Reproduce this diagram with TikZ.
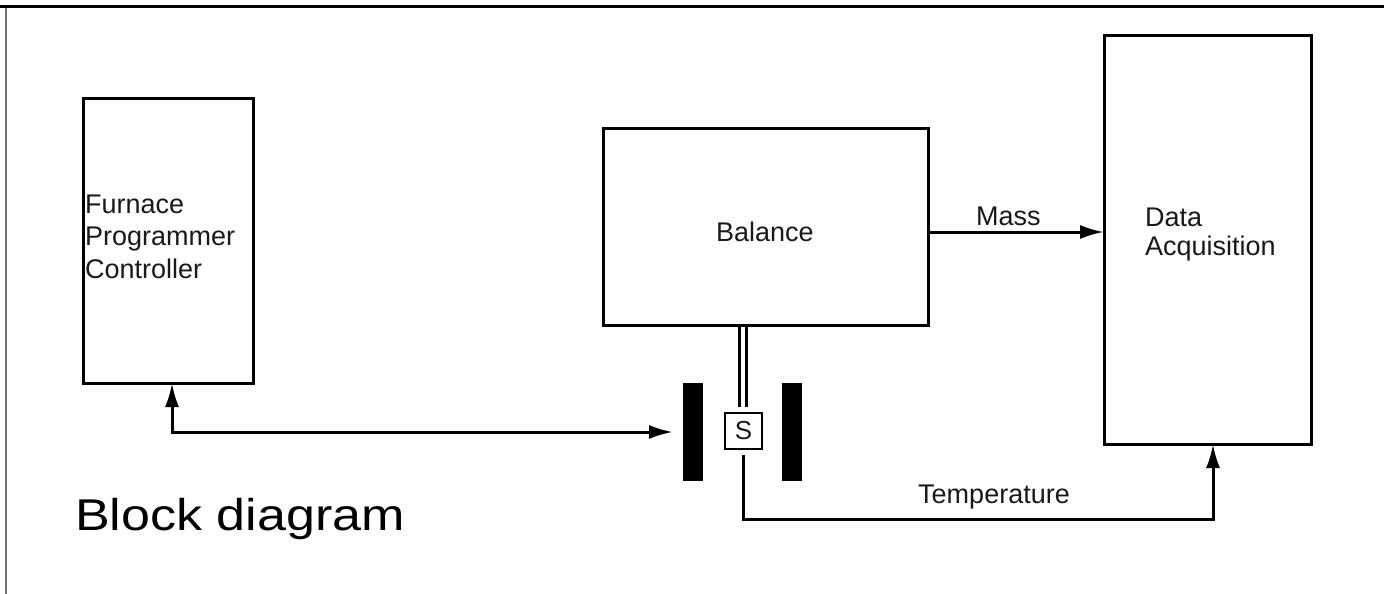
\documentclass[tikz,border=0pt]{standalone}
\usepackage{fontspec}
\setmainfont{Liberation Sans}
\usetikzlibrary{arrows.meta}
\tikzset{
  box/.style={draw=black, line width=3pt, fill=none, inner sep=0pt, outer sep=0pt},
  bar/.style={fill=black, draw=none, inner sep=0pt, outer sep=0pt, minimum width=20pt, minimum height=98pt},
  lbl/.style={inner sep=0pt, anchor=base west, text=black!90, font=\fontsize{27}{30}\selectfont},
  conn/.style={line width=3pt, draw=black},
  arr/.style={conn, -{Latex[length=24pt,width=14pt]}},
  biarr/.style={conn, {Latex[length=24pt,width=14pt]}-{Latex[length=24pt,width=14pt]}},
}
\begin{document}
\begin{tikzpicture}[x=1pt, y=-1pt]
\useasboundingbox (0,0) rectangle (1384,594);
\fill[white] (0,0) rectangle (1384,594);
% frame lines
\draw[line width=3.5pt, black] (0,6.5) -- (1384,6.5);
\draw[line width=2pt, black!55] (6,8) -- (6,594);
% boxes
\node[box, minimum width=170pt, minimum height=285pt] (fpc) at (168,240.5) {};
\node[box, minimum width=325pt, minimum height=197pt] (bal) at (765.5,226.5) {};
\node[box, minimum width=207pt, minimum height=408pt] (daq) at (1207.5,240) {};
\node[box, line width=2.4pt, minimum width=37pt, minimum height=36pt, font=\fontsize{26}{28}\selectfont, text=black!90] (sbox) at (743.5,431) {S};
\node[bar] (lbar) at (693,432) {};
\node[bar] (rbar) at (792,432) {};
% texts
\node[lbl, align=left, font=\fontsize{27}{32.5}\selectfont] (fpct) at (85,278) {Furnace\\Programmer\\Controller};
\node[lbl] (balt) at (716,241) {Balance};
\node[lbl, align=left, font=\fontsize{27}{29}\selectfont] (daqt) at (1145,255) {Data\\Acquisition};
\node[lbl] (mass) at (976,225) {Mass};
\node[lbl] (temp) at (918,503) {Temperature};
\node[inner sep=0pt, anchor=base west, font=\fontsize{44.5}{50}\selectfont] (title) at (75,530) {\scalebox{1.17}[1]{Block diagram}};
% connectors
\coordinate (fc) at (172,432);
\draw[biarr, shorten >=10pt] (fpc.south -| fc) -- (fc) -- (lbar.west |- fc);
\coordinate (m1) at (0,232);
\draw[arr] (bal.east |- m1) -- (daq.west |- m1);
\coordinate (h1) at (739.5,0);
\coordinate (h2) at (746.5,0);
\draw[conn, line width=2.2pt, shorten >=6pt] (bal.south -| h1) -- (sbox.north -| h1);
\draw[conn, line width=2.2pt, shorten >=6pt] (bal.south -| h2) -- (sbox.north -| h2);
\coordinate (t1) at (743,519);
\coordinate (t2) at (1213,519);
\draw[arr, shorten <=6pt] (sbox.south -| t1) -- (t1) -- (t2) -- (daq.south -| t2);
\end{tikzpicture}
\end{document}
